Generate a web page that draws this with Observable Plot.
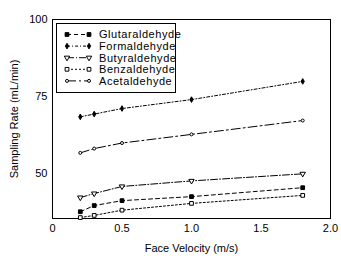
<!DOCTYPE html>
<html><head><meta charset="utf-8">
<script src="https://cdn.jsdelivr.net/npm/d3@7"></script>
<script src="https://cdn.jsdelivr.net/npm/@observablehq/plot@0.6"></script>
<style>
body{margin:0;background:#fff;}
#wrap{position:relative;width:341px;height:258px;font-family:"Liberation Sans",Arial,sans-serif;}
#legend{position:absolute;left:56px;top:23px;overflow:visible;}
</style></head>
<body><div id="wrap"></div>
<script>
const velocity = [0.2, 0.3, 0.5, 1.0, 1.8];
const seriesNames = ["Glutaraldehyde","Formaldehyde","Butyraldehyde","Benzaldehyde","Acetaldehyde"];
const glutaraldehyde = [37.6, 39.6, 41.2, 42.5, 45.4];
const formaldehyde   = [68.4, 69.3, 71.1, 74.0, 79.9];
const butyraldehyde  = [42.2, 43.5, 45.8, 47.6, 49.9];
const benzaldehyde   = [35.7, 36.4, 38.1, 40.3, 42.9];
const acetaldehyde   = [56.7, 58.1, 59.9, 62.7, 67.2];
const xTicks = [0, 0.5, 1.0, 1.5, 2.0];
const yTicks = [50, 75, 100];

const values = [glutaraldehyde, formaldehyde, butyraldehyde, benzaldehyde, acetaldehyde];
const styles = {
  Glutaraldehyde: {dash:"4,3", symbol:"square", fill:"black", r:2.1, rotate:0},
  Formaldehyde:   {dash:"3,2,1,2", symbol:"diamond", fill:"black", r:1.7, rotate:0},
  Butyraldehyde:  {dash:"7,2,1,2", symbol:"triangle", fill:"white", r:2.0, rotate:180},
  Benzaldehyde:   {dash:"2,2", symbol:"square", fill:"white", r:2.1, rotate:0},
  Acetaldehyde:   {dash:"9,3,2,3", symbol:"circle", fill:"white", r:1.5, rotate:0}
};
const data = [];
seriesNames.forEach((s,i)=>velocity.forEach((v,j)=>data.push({series:s, x:v, y:values[i][j]})));

const marks = [Plot.frame({stroke:"black"})];
for (const s of seriesNames) {
  const st = styles[s];
  const d = data.filter(r=>r.series===s);
  marks.push(Plot.line(d,{x:"x",y:"y",stroke:"black",strokeWidth:1,strokeDasharray:st.dash}));
  marks.push(Plot.dot(d,{x:"x",y:"y",symbol:()=>st.symbol,r:st.r,fill:st.fill,stroke:"black",strokeWidth:1,rotate:st.rotate}));
}
marks.push(Plot.axisX({ticks:xTicks, tickSize:0, tickPadding:6, tickFormat:d=>d===0?"0":d.toFixed(1),
  label:"Face Velocity (m/s)", labelAnchor:"center", labelArrow:"none", labelOffset:33}));
marks.push(Plot.axisY({ticks:yTicks, tickSize:0, tickPadding:5,
  label:"Sampling Rate (mL/min)", labelAnchor:"center", labelArrow:"none", labelOffset:42}));

const chart = Plot.plot({
  width:341, height:258,
  marginTop:19, marginRight:11, marginBottom:40, marginLeft:52,
  style:{fontFamily:"Liberation Sans, Arial, sans-serif", fontSize:"11px", color:"black", background:"white"},
  x:{domain:[0,2]},
  y:{domain:[35.4,100]},
  marks
});
const wrap = document.getElementById("wrap");
wrap.appendChild(chart);

// legend overlay
const lg = d3.select(wrap).append("svg").attr("id","legend").attr("width",120).attr("height",70)
  .style("font-family","Liberation Sans, Arial, sans-serif").style("font-size","11px").style("letter-spacing","0.55px");
lg.append("rect").attr("x",0.5).attr("y",0.5).attr("width",119).attr("height",69).attr("fill","white").attr("stroke","black");
const symMap = {square:d3.symbolSquare, diamond:d3.symbolDiamond, triangle:d3.symbolTriangle, circle:d3.symbolCircle};
seriesNames.forEach((s,i)=>{
  const st = styles[s];
  const y = 11.5 + i*11.6;
  const g = lg.append("g");
  g.append("line").attr("x1",11).attr("x2",33).attr("y1",y).attr("y2",y).attr("stroke","black").attr("stroke-dasharray",st.dash);
  for (const x of [11,33]) {
    g.append("path").attr("d", d3.symbol(symMap[st.symbol], Math.PI*st.r*st.r)())
      .attr("transform",`translate(${x},${y}) rotate(${st.rotate})`)
      .attr("fill",st.fill).attr("stroke","black");
  }
  g.append("text").attr("x",43).attr("y",y).attr("dy","0.35em").text(s);
});
</script></body></html>
